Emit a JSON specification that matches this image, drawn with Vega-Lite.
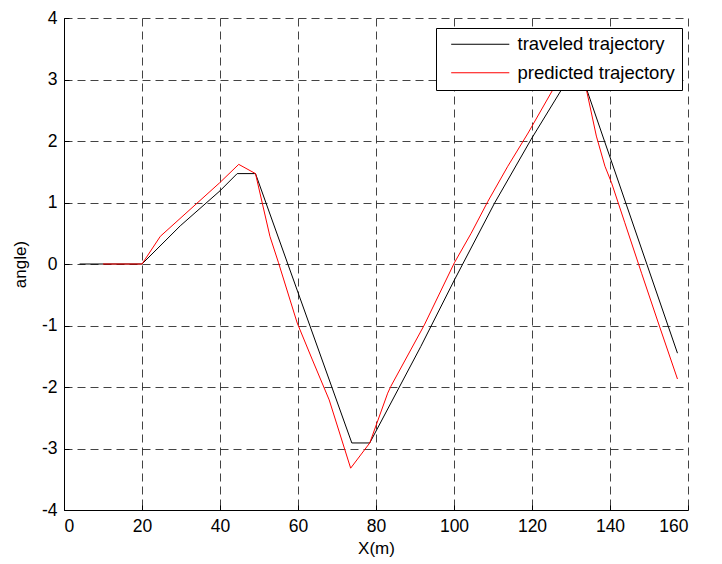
{
  "$schema": "https://vega.github.io/schema/vega-lite/v6.json",
  "autosize": "none",
  "width": 624,
  "height": 492,
  "padding": {"left": 64, "top": 18, "right": 34, "bottom": 54},
  "background": "white",
  "config": {
    "font": "Liberation Sans",
    "view": {"stroke": null},
    "axis": {
      "domainColor": "black",
      "domainWidth": 1,
      "gridColor": "#222",
      "gridDash": [8, 5],
      "gridWidth": 1,
      "gridOpacity": 0.85,
      "tickColor": "black",
      "tickSize": -5,
      "labelColor": "black",
      "labelFontSize": 17.5,
      "titleFontSize": 17,
      "titleFontWeight": "normal",
      "titleColor": "black"
    }
  },
  "data": {
    "values": [
      {"series": "traveled trajectory", "x": 4, "y": 0},
      {"series": "traveled trajectory", "x": 20, "y": 0},
      {"series": "traveled trajectory", "x": 29.8, "y": 0.62},
      {"series": "traveled trajectory", "x": 40, "y": 1.19},
      {"series": "traveled trajectory", "x": 44.4, "y": 1.47},
      {"series": "traveled trajectory", "x": 49.1, "y": 1.47},
      {"series": "traveled trajectory", "x": 73.8, "y": -2.91},
      {"series": "traveled trajectory", "x": 78.4, "y": -2.91},
      {"series": "traveled trajectory", "x": 91.5, "y": -1.34},
      {"series": "traveled trajectory", "x": 100.1, "y": -0.26},
      {"series": "traveled trajectory", "x": 110.4, "y": 0.99},
      {"series": "traveled trajectory", "x": 119.8, "y": 2.03},
      {"series": "traveled trajectory", "x": 128, "y": 2.88},
      {"series": "traveled trajectory", "x": 133.8, "y": 2.88},
      {"series": "traveled trajectory", "x": 157.3, "y": -1.45},
      {"series": "predicted trajectory", "x": 10, "y": 0},
      {"series": "predicted trajectory", "x": 20, "y": 0},
      {"series": "predicted trajectory", "x": 24.7, "y": 0.45},
      {"series": "predicted trajectory", "x": 39.9, "y": 1.32},
      {"series": "predicted trajectory", "x": 44.8, "y": 1.62},
      {"series": "predicted trajectory", "x": 49.1, "y": 1.47},
      {"series": "predicted trajectory", "x": 52.8, "y": 0.45},
      {"series": "predicted trajectory", "x": 55, "y": 0.02},
      {"series": "predicted trajectory", "x": 59.8, "y": -0.96},
      {"series": "predicted trajectory", "x": 63.7, "y": -1.56},
      {"series": "predicted trajectory", "x": 68, "y": -2.21},
      {"series": "predicted trajectory", "x": 73.5, "y": -3.32},
      {"series": "predicted trajectory", "x": 78.4, "y": -2.91},
      {"series": "predicted trajectory", "x": 83, "y": -2.1},
      {"series": "predicted trajectory", "x": 83.8, "y": -1.99},
      {"series": "predicted trajectory", "x": 92.4, "y": -0.99},
      {"series": "predicted trajectory", "x": 100.1, "y": 0.02},
      {"series": "predicted trajectory", "x": 104.4, "y": 0.5},
      {"series": "predicted trajectory", "x": 108.7, "y": 1.02},
      {"series": "predicted trajectory", "x": 113.8, "y": 1.59},
      {"series": "predicted trajectory", "x": 119, "y": 2.13},
      {"series": "predicted trajectory", "x": 125.4, "y": 2.84},
      {"series": "predicted trajectory", "x": 128.5, "y": 3.15},
      {"series": "predicted trajectory", "x": 133.8, "y": 2.88},
      {"series": "predicted trajectory", "x": 136.5, "y": 2.08},
      {"series": "predicted trajectory", "x": 138.7, "y": 1.59},
      {"series": "predicted trajectory", "x": 140.4, "y": 1.32},
      {"series": "predicted trajectory", "x": 143.8, "y": 0.67},
      {"series": "predicted trajectory", "x": 148.1, "y": -0.15},
      {"series": "predicted trajectory", "x": 152.4, "y": -0.96},
      {"series": "predicted trajectory", "x": 157.3, "y": -1.87}
    ]
  },
  "mark": {"type": "line", "strokeWidth": 1, "clip": true},
  "encoding": {
    "x": {
      "field": "x",
      "type": "quantitative",
      "scale": {"domain": [0, 160], "nice": false, "zero": false},
      "axis": {
        "title": "X(m)",
        "values": [0, 20, 40, 60, 80, 100, 120, 140, 160],
        "labelExpr": "'' + datum.value",
        "labelPadding": 12,
        "titlePadding": 6
      }
    },
    "y": {
      "field": "y",
      "type": "quantitative",
      "scale": {"domain": [-4, 4], "nice": false, "zero": false},
      "axis": {
        "title": "angle)",
        "values": [-4, -3, -2, -1, 0, 1, 2, 3, 4],
        "labelExpr": "'' + datum.value",
        "labelPadding": 12,
        "titlePadding": 12
      }
    },
    "color": {
      "field": "series",
      "type": "nominal",
      "scale": {
        "domain": ["traveled trajectory", "predicted trajectory"],
        "range": ["#000000", "#ff0000"]
      },
      "legend": {
        "title": null,
        "orient": "none",
        "legendX": 372,
        "legendY": 10,
        "fillColor": "white",
        "strokeColor": "black",
        "padding": 7,
        "symbolType": "M-0.15,0H8.15",
        "symbolSize": 196,
        "symbolStrokeWidth": 1,
        "labelFontSize": 18.5,
        "labelColor": "black",
        "labelOffset": 56,
        "rowPadding": 9.5
      }
    }
  }
}
